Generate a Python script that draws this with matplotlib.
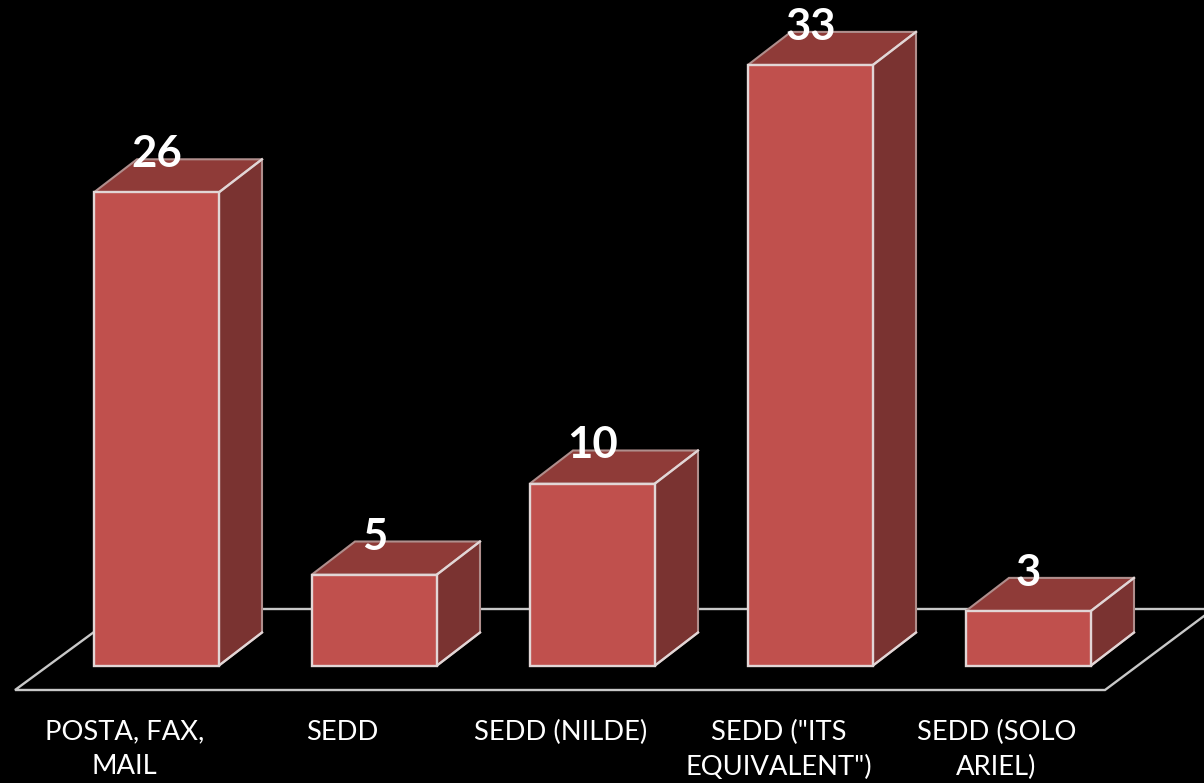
import matplotlib
matplotlib.use("Agg")
import matplotlib.pyplot as plt
from matplotlib.patches import Polygon

categories = ['POSTA, FAX,\nMAIL', 'SEDD', 'SEDD (NILDE)', 'SEDD ("ITS\nEQUIVALENT")', 'SEDD (SOLO\nARIEL)']
values = [26, 5, 10, 33, 3]

W, H = 1204, 783
X0, DX = 156.5, 218.0
Y0, DY = 665.5, 18.2
FRONT, TOP, SIDE = '#C0504D', '#8F3B38', '#7A3331'
EDGE, DIM, FLOOR = '#E2D6D6', '#B08E8C', '#C8C8C8'

fig = plt.figure(figsize=(W / 100, H / 100), dpi=100, facecolor='black')
ax = fig.add_axes([0, 0, 1, 1])
ax.set_facecolor('black')
ax.set_xlim(-X0 / DX, (W - X0) / DX)
ax.set_ylim(-(H - Y0) / DY, Y0 / DY)
ax.axis('off')


def px(x, y):
    return (x - X0) / DX, (Y0 - y) / DY


# floor
floor_front = [px(94, 632), px(15, 690), px(1105, 690), px(1204, 616)]
floor_back = [px(262, 609), px(1204, 609)]
ax.plot(*zip(*floor_front), color=FLOOR, lw=1.7, zorder=1, solid_joinstyle='miter')
ax.plot(*zip(*floor_back), color=FLOOR, lw=1.7, zorder=1)

half = 62.5 / DX
ox, oy = 43 / DX, 33 / DY
xs = range(len(values))
ax.bar(xs, values, width=2 * half, color=FRONT, edgecolor=EDGE, linewidth=1.7, zorder=4)
for x, v in zip(xs, values):
    right = x + half
    ax.add_patch(Polygon([(x - half, v), (right, v), (right + ox, v + oy), (x - half + ox, v + oy)],
                         facecolor=TOP, edgecolor=DIM, lw=1.5, zorder=2))
    ax.add_patch(Polygon([(right, 0), (right + ox, oy), (right + ox, v + oy), (right, v)],
                         facecolor=SIDE, edgecolor=DIM, lw=1.5, zorder=2))
    ax.plot([right, right + ox], [v, v + oy], color=EDGE, lw=1.7, zorder=3)
    ax.plot([right, right + ox], [0, oy], color=EDGE, lw=1.7, zorder=3)
    ax.text(x, v + 38 / DY, str(v), color='white', fontsize=31.5, fontweight='bold',
            family='Lato', ha='center', va='center', zorder=5)
    ax.text(x - 32.0 / DX, -(719.5 - Y0) / DY, categories[x], color='white',
            fontsize=19.7, family='Lato', ha='center', va='top', linespacing=1.5, zorder=5)

fig.savefig('out.png', dpi=100, facecolor='black')
